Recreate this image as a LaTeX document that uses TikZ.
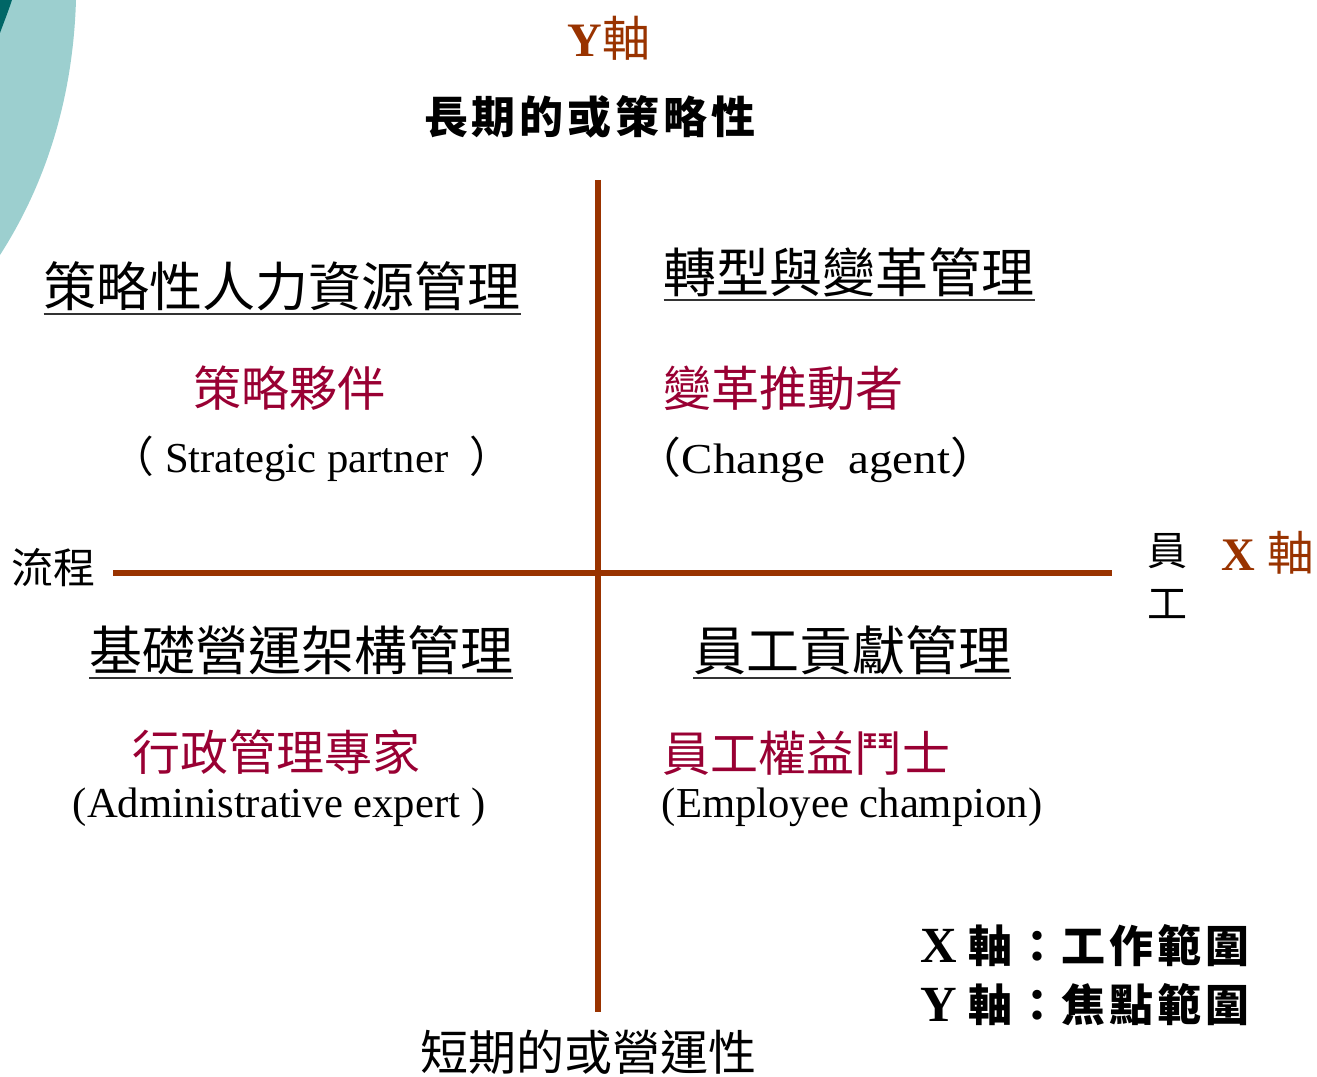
\documentclass[tikz,border=0pt]{standalone}
\usepackage{fontspec}
\setmainfont{Liberation Serif}
\newfontfamily\cjk{Noto Sans CJK TC}
\definecolor{axisbrown}{HTML}{993300}
\definecolor{rolered}{HTML}{990033}
\definecolor{tealA}{HTML}{9CCFCF}
\definecolor{tealB}{HTML}{006666}
\definecolor{ulgray}{HTML}{333333}
\begin{document}
\begin{tikzpicture}[x=0.75pt,y=-0.75pt,
  every node/.style={inner sep=0pt, outer sep=0pt},
  ttl/.style={font=\cjk\fontsize{39.75pt}{40pt}\selectfont, anchor=base, text depth=6pt},
  uline/.style={draw=ulgray, line width=1.5pt},
  role/.style={font=\cjk\fontsize{36pt}{36pt}\selectfont, text=rolered, anchor=base},
  eng/.style={font=\fontsize{32pt}{32pt}\selectfont, anchor=base},
  axisline/.style={draw=axisbrown, line width=4.5pt},
  axlabel/.style={text=axisbrown, anchor=base},
  legend/.style={font=\bfseries\fontsize{33pt}{33pt}\selectfont, anchor=base west}
]
\useasboundingbox (0,0) rectangle (1317,1077);
% decorative teal shapes
\fill[tealA] (0,0) -- (76,0) .. controls (73,100) and (45,185) .. (0,255) -- cycle;
\fill[tealB] (0,0) -- (12,0) .. controls (8,12) and (4,22) .. (0,33) -- cycle;

% axes
\coordinate (ytop) at (598,180);
\coordinate (ybot) at (598,1012);
\coordinate (xl) at (113,573);
\coordinate (xr) at (1112,573);
\draw[axisline] (ytop) -- (ybot);
\draw[axisline] (xl) -- (xr);

% axis labels
\node[axlabel, font=\bfseries\fontsize{36pt}{36pt}\selectfont] (yax) at (609,57) {Y{\cjk\mdseries 軸}};
\node[anchor=base, font=\cjk\bfseries\fontsize{33pt}{33pt}\selectfont] (ylong) at (590,134) {長\kern3pt期\kern3pt的\kern3pt或\kern3pt策\kern3pt略\kern3pt性};
\node[anchor=base, font=\cjk\fontsize{36pt}{36pt}\selectfont] (yshort) at (588,1070) {短期的或營運性};
\node[anchor=base, font=\cjk\fontsize{31.5pt}{32pt}\selectfont] (proc) at (54,583) {流程};
\node[anchor=base, font=\cjk\fontsize{30pt}{30pt}\selectfont] (emp1) at (1167,565) {員};
\node[anchor=base, font=\cjk\fontsize{30pt}{30pt}\selectfont] (emp2) at (1167,618) {工};
\node[axlabel, font=\bfseries\fontsize{35pt}{35pt}\selectfont] (xax) at (1268,570) {X {\cjk\mdseries 軸}};

% quadrant titles
\node[ttl] (t1) at (282,306) {策略性人力資源管理};
\node[ttl] (t2) at (849,292) {轉型與變革管理};
\node[ttl] (t3) at (301,670) {基礎營運架構管理};
\node[ttl] (t4) at (852,670) {員工貢獻管理};
\foreach \n in {t1,t2,t3,t4} \draw[uline] (\n.south west) -- (\n.south east);

% roles
\node[role] (r1) at (289,406) {策略夥伴};
\node[role] (r2) at (783,406) {變革推動者};
\node[role] (r3) at (276,770) {行政管理專家};
\node[role] (r4) at (806,771) {員工權益鬥士};

% english
\node[eng] (e1) at (312,472) {{\cjk （}\ Strategic partner\ \ {\cjk ）}};
\node[eng] (e2) at (816,473) {\scalebox{1.1}[1]{{\cjk （}Change\ \ agent{\cjk ）}}};
\node[eng] (e3) at (279,817) {(Administrative expert )};
\node[eng] (e4) at (852,817) {(Employee champion)};

% legend
\node[legend] (lx) at (920,962) {{\fontsize{38pt}{38pt}\selectfont X}\kern9pt{\cjk 軸\kern2pt：\kern2pt工\kern3pt作\kern3pt範\kern3pt圍}};
\node[legend] (ly) at (920,1021) {{\fontsize{38pt}{38pt}\selectfont Y}\kern9pt{\cjk 軸\kern2pt：\kern2pt焦\kern3pt點\kern3pt範\kern3pt圍}};
\end{tikzpicture}
\end{document}
